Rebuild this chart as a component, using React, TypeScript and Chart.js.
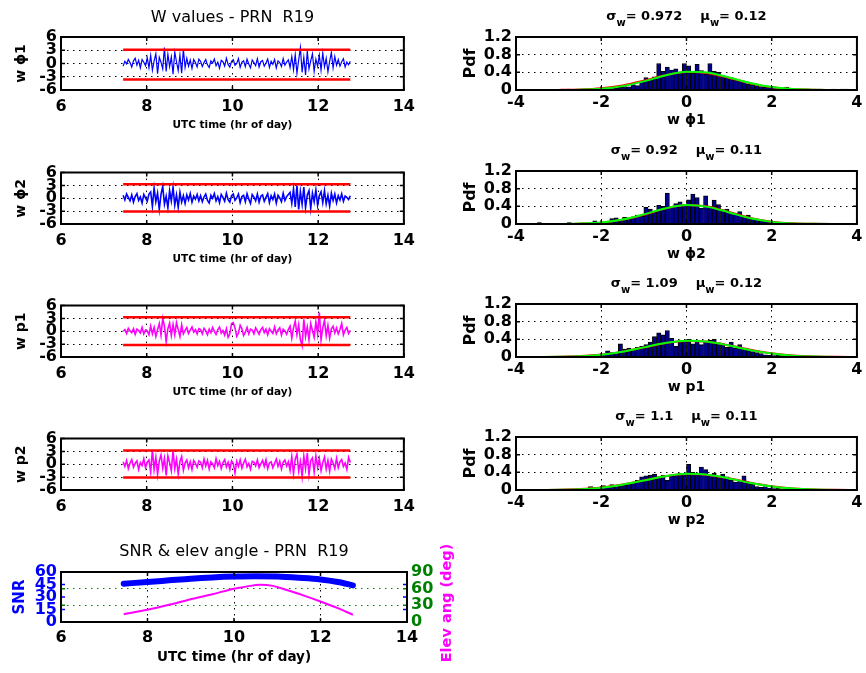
import React, { useEffect, useRef } from 'react';
import { Chart, registerables } from 'chart.js';

Chart.register(...registerables);

// ---------------- data ----------------
const T_START = 7.45;
const T_END = 12.75;

const W_PHI1 = [
  -0.6, 0.5, -0.1, 0.9, 0.2, -0.8, 0.6, 1.2, -0.4, 0.7, -1.0, 0.9, 0.3, -0.5, 1.3, -1.0,
  1.8, -1.5, 0.6, 2.2, -2.3, 1.4, 0.3, -1.2, 3.6, -1.8, 2.1, -0.7, 1.5, -2.4, 2.6, 0.4, -1.6, 1.9, -2.2, 3.2, -0.9,
  1.2, -0.6, 0.8, -1.1, 0.9, 0.2, -0.8, 1.0,
  0.5, -0.7, 0.2, 0.9, -0.3, -0.9, 0.6, 0.1, 1.0, -0.5, 0.3, -1.1, 0.7, 0.4, -0.6, 1.2, -0.2, -0.8, 0.5, 0.9,
  -0.4, 0.0, 1.1, -0.9, 0.3, 0.6, -0.7, 1.0, -0.1, -1.0, 0.8, 0.2, -0.5, 1.1, -0.8, 0.4, 0.7, -0.6, 0.1, 1.0,
  -0.9, 0.5, -0.2, 0.9, -1.0, 0.6, 0.2, -0.7, 1.1, -0.4, 0.3, 0.8,
  -0.9, 1.6, -1.4, 2.0, -2.2, 0.8, 3.6, -2.0, 1.4, -2.6, 2.8, -1.2, 0.6, 2.2, -1.8, 1.0, -0.6, 1.9, -1.5, 2.4,
  -0.8, 1.2, -1.9, 0.5, 2.5, -1.0, 1.6, -0.4,
  0.9, -0.6, 0.4, 1.1, -0.8, 0.3, -0.3, 0.5,
];
const W_PHI2 = [
  0.7, -0.4, 1.0, 0.2, -0.6, 0.8, -0.9, 0.4, 1.1, -0.5, 0.3, -1.1, 0.9, 0.1, -0.7, 1.0,
  1.5, -1.9, 2.4, -0.8, 1.2, -2.6, 0.9, 2.8, -1.4, 0.5, -2.2, 1.8, -0.6, 2.6, -1.6, 0.8, -2.1, 1.4, -0.9, 0.6, -1.2,
  0.8, -0.4, 1.1, -0.9, 0.5, -0.2, 0.9, -0.6,
  0.6, -0.8, 0.3, 1.0, -0.5, -1.1, 0.7, 0.0, 1.1, -0.6, 0.4, -1.0, 0.9, 0.2, -0.7, 1.2, -0.3, -0.9, 0.6, 1.0,
  -0.5, 0.1, 1.0, -1.0, 0.4, 0.7, -0.8, 1.1, -0.2, -1.2, 0.9, 0.3, -0.6, 1.0, -0.9, 0.5, 0.8, -0.7, 0.2, 1.1,
  -1.0, 0.6, -0.3, 1.0, -1.1, 0.7, 0.1, -0.8, 1.2, -0.5, 0.4, 0.9,
  1.4, -1.2, 2.2, -2.0, 3.0, -2.6, 1.6, -1.4, 2.6, -2.2, 0.8, 1.8, -2.4, 1.2, -0.8, 2.0, -1.6, 0.6, 1.5, -1.0,
  1.8, -1.3, 0.7, -1.8, 1.2, -0.5, 1.0, -1.1,
  0.6, -0.4, 1.0, -0.7, 0.5, 0.2, -0.3, 0.6,
];
const W_P1 = [
  0.0, 0.4, -0.5, 0.7, 0.1, -0.3, 0.6, -0.7, 0.5, 0.2, -0.4, 0.9, -0.6, 0.3, 0.1, -0.8,
  1.2, -0.6, 0.9, -1.2, 0.4, 1.8, -0.9, 3.0, 1.2, -2.4, 0.6, 1.9, -1.0, 1.6, -0.8, 2.0, 0.4, -1.2, 1.5, -0.6, 0.2,
  0.9, -0.5, 0.3, 1.0, -0.2, 0.4, -0.6, 0.6,
  0.4, -0.6, 0.7, 0.1, -0.8, 0.5, -0.3, 0.9, 0.0, -0.7, 0.4, 1.0, -0.4, 0.2, -0.9, 0.6,
  -1.4, -0.6, 1.8, 2.0, 0.8, -1.2, -0.4, 1.4, 0.6, -1.0, -0.2, 0.9, -0.6, 0.5,
  0.3, -0.6, 0.8, 0.1, -0.7, 0.4, 0.9, -0.3, 0.5, -0.8, 0.6, 0.0, -0.5, 1.0, -0.6, 0.3, 0.8, -0.9, 0.5, 0.1, -0.7, 0.4,
  1.2, -1.6, 0.8, 2.4, -0.8, 1.5, -2.0, -3.4, 2.8, -1.2, 1.0, -2.0, 1.8, 0.2, -1.4, 2.2, -0.6, 4.4, -2.0, 0.8,
  2.6, -1.0, 1.4, -1.6, 0.6, 1.2, -0.4, 0.8,
  -0.6, 0.4, 1.8, -0.8, 0.3, 0.9, -0.5, 0.2,
];
const W_P2 = [
  0.6, -0.5, 0.9, -1.0, 0.3, 1.1, -0.7, 0.2, 0.8, -1.2, 0.4, -0.3, 1.3, -0.8, 0.5, 1.0,
  -1.8, 3.4, -1.2, 1.6, -2.4, 0.8, 2.2, -0.9, 1.4, -2.6, 2.0, 0.4, -1.5, 3.2, -1.0, 1.2, -2.3, 0.6, 1.8, -1.4, 0.3,
  1.0, -0.8, 0.6, -1.2, 0.9, 0.2, -0.7, 0.8,
  0.5, -0.8, 1.2, -0.4, 0.9, -1.1, 0.6, 0.1, -0.8, 1.3, -0.3, 0.7, -1.0, 0.4, 1.1, -0.6, 0.5, -1.2, 0.8, 0.2,
  -2.0, 0.7, -0.5, 1.0, -0.9, 0.3, 1.2, -0.6, 0.2, -1.1, 0.7, 0.5, -0.4, 1.0, -0.8, 0.1, 0.9, -0.5, 1.1, -1.0,
  0.3, 0.6, -0.8, 0.2, 1.2, -0.5, 0.7, -1.1, 0.5, 1.0, -0.4, 0.6,
  -1.4, 1.8, -2.2, 1.2, 2.4, -1.6, 0.6, -2.8, 1.9, -1.0, 2.6, -2.4, 0.8, 1.5, -1.8, 2.0, -0.7, 1.3, -1.5, 0.4,
  1.7, -1.1, 0.9, -1.6, 1.2, 0.3, -1.0, 1.4,
  -0.8, 0.6, 1.1, -0.5, 0.3, -1.2, 1.6, 0.4,
];
const UPPER = [3.1, 3.3, 3.3, 3.2];
const LOWER = [-3.6, -3.1, -3.2, -3.1];
const W_LABELS = ['w \u03d51', 'w \u03d52', 'w p1', 'w p2'];

// histograms: bin centres start at -3.95, width 0.1
const BIN_START = -3.95;
const BIN_WIDTH = 0.1;
const PDF_PHI1 = [
  0, 0, 0, 0, 0, 0, 0, 0, 0, 0,
  0, 0, 0.02, 0.01, 0, 0.01, 0.02, 0.01, 0.02, 0.03,
  0.02, 0.04, 0.03, 0.05, 0.06, 0.08, 0.07, 0.12, 0.10, 0.18,
  0.28, 0.22, 0.30, 0.60, 0.42, 0.52, 0.45, 0.48, 0.40, 0.60,
  0.55, 0.38, 0.58, 0.44, 0.36, 0.60, 0.42, 0.40, 0.32, 0.30,
  0.28, 0.22, 0.20, 0.18, 0.14, 0.12, 0.10, 0.08, 0.06, 0.07,
  0.07, 0.03, 0.02, 0.06, 0.03, 0.02, 0.01, 0.02, 0.02, 0.01,
  0.01, 0.02, 0, 0.01, 0.02, 0, 0.02, 0.02, 0, 0,
];
const PDF_PHI2 = [
  0, 0, 0, 0, 0, 0.03, 0, 0.01, 0, 0.01,
  0.01, 0, 0.03, 0.01, 0.01, 0.02, 0.01, 0.02, 0.07, 0.03,
  0.04, 0.06, 0.12, 0.14, 0.10, 0.15, 0.12, 0.16, 0.20, 0.18,
  0.38, 0.34, 0.28, 0.42, 0.40, 0.70, 0.38, 0.46, 0.50, 0.42,
  0.55, 0.68, 0.60, 0.36, 0.64, 0.40, 0.54, 0.44, 0.32, 0.34,
  0.26, 0.22, 0.28, 0.16, 0.20, 0.12, 0.10, 0.08, 0.06, 0.05,
  0.03, 0.04, 0.02, 0.01, 0.01, 0.02, 0.01, 0, 0, 0,
  0, 0, 0, 0, 0, 0, 0, 0, 0, 0,
];
const PDF_P1 = [
  0, 0.01, 0, 0, 0, 0, 0, 0, 0.01, 0.01,
  0, 0.01, 0, 0.01, 0.01, 0.02, 0.01, 0.02, 0.03, 0.04,
  0.06, 0.14, 0.10, 0.08, 0.30, 0.18, 0.20, 0.18, 0.22, 0.25,
  0.28, 0.34, 0.46, 0.55, 0.50, 0.60, 0.42, 0.24, 0.34, 0.38,
  0.40, 0.30, 0.38, 0.28, 0.34, 0.38, 0.40, 0.32, 0.30, 0.22,
  0.34, 0.20, 0.28, 0.18, 0.16, 0.12, 0.10, 0.08, 0.05, 0.04,
  0.03, 0.04, 0.03, 0.02, 0.01, 0, 0, 0, 0, 0.01,
  0, 0.02, 0, 0, 0, 0, 0, 0, 0, 0,
];
const PDF_P2 = [
  0, 0.01, 0, 0, 0.01, 0, 0, 0.01, 0, 0.01,
  0, 0.01, 0.01, 0.02, 0.01, 0.01, 0.02, 0.08, 0.05, 0.04,
  0.10, 0.06, 0.12, 0.08, 0.10, 0.12, 0.14, 0.18, 0.22, 0.30,
  0.32, 0.34, 0.36, 0.30, 0.34, 0.22, 0.32, 0.34, 0.38, 0.36,
  0.58, 0.40, 0.36, 0.52, 0.46, 0.34, 0.38, 0.30, 0.36, 0.30,
  0.22, 0.18, 0.22, 0.32, 0.16, 0.14, 0.08, 0.06, 0.08, 0.04,
  0.03, 0.04, 0.02, 0.01, 0.01, 0.01, 0, 0.01, 0, 0,
  0.01, 0, 0, 0.01, 0, 0, 0, 0, 0, 0,
];

// fitted pdf curves (red = normal fit, green = second fit)
const CURVE_X = [-4, -3.5, -3, -2.5, -2, -1.5, -1, -0.5, 0, 0.5, 1, 1.5, 2, 2.5, 3, 3.5, 4];
const RED_PHI1 = [0.0001, 0.0004, 0.0024, 0.011, 0.038, 0.102, 0.211, 0.335, 0.407, 0.380, 0.272, 0.150, 0.063, 0.020, 0.005, 0.001, 0.0002];
const GREEN_PHI1 = [0, 0.0002, 0.0015, 0.008, 0.030, 0.088, 0.195, 0.330, 0.415, 0.395, 0.285, 0.158, 0.066, 0.021, 0.005, 0.001, 0.0002];
const RED_PHI2 = [0.0001, 0.0002, 0.0014, 0.0078, 0.031, 0.094, 0.209, 0.348, 0.431, 0.396, 0.272, 0.139, 0.053, 0.015, 0.003, 0.0005, 0.0001];
const GREEN_PHI2 = [0, 0.0003, 0.002, 0.010, 0.036, 0.102, 0.218, 0.352, 0.428, 0.388, 0.262, 0.130, 0.048, 0.013, 0.003, 0.0004, 0];
const RED_P1 = [0.0003, 0.0015, 0.006, 0.020, 0.055, 0.122, 0.216, 0.311, 0.364, 0.344, 0.264, 0.164, 0.083, 0.034, 0.011, 0.003, 0.0006];
const GREEN_P1 = [0.0002, 0.001, 0.005, 0.018, 0.052, 0.120, 0.218, 0.318, 0.370, 0.345, 0.258, 0.156, 0.077, 0.030, 0.010, 0.002, 0.0004];
const RED_P2 = [0.0003, 0.0015, 0.006, 0.021, 0.057, 0.124, 0.217, 0.310, 0.361, 0.342, 0.264, 0.166, 0.086, 0.036, 0.012, 0.003, 0.0007];
const GREEN_P2 = [0.0002, 0.001, 0.005, 0.019, 0.053, 0.120, 0.215, 0.312, 0.366, 0.346, 0.262, 0.160, 0.080, 0.032, 0.010, 0.002, 0.0005];

const SIGMA = [0.972, 0.92, 1.09, 1.1];
const MU = [0.12, 0.11, 0.12, 0.11];

// SNR and elevation
const SNR_T = [7.45, 8, 8.5, 9, 9.5, 10, 10.5, 11, 11.5, 12, 12.4, 12.75];
const SNR = [46, 48, 50, 52, 53.5, 54.5, 55, 54.5, 53, 51, 48, 44];
const ELEV_T = [7.45, 8, 8.5, 9, 9.5, 10, 10.3, 10.6, 10.9, 11.2, 11.6, 12, 12.4, 12.75];
const ELEV = [14, 22, 31, 41, 50, 60, 64, 67, 65, 58, 48, 37, 25, 13];

const W_TITLE = 'W values - PRN  R19';
const SNR_TITLE = 'SNR & elev angle - PRN  R19';
const TIME_LABEL = 'UTC time (hr of day)';

// ---------------- styling / layout ----------------
const FONT = "'DejaVu Sans', 'Liberation Sans', Arial, sans-serif";
const BLUE = '#0000ff';
const RED = '#ff0000';
const MAGENTA = '#ff00ff';
const GREEN_AX = '#008000';
const W_SERIES = [W_PHI1, W_PHI2, W_P1, W_P2];
const W_COLORS = [BLUE, BLUE, MAGENTA, MAGENTA];
const W_WIDTHS = [1.2, 1.6, 1.6, 1.6];
const PDFS = [PDF_PHI1, PDF_PHI2, PDF_P1, PDF_P2];
const REDS = [RED_PHI1, RED_PHI2, RED_P1, RED_P2];
const GREENS = [GREEN_PHI1, GREEN_PHI2, GREEN_P1, GREEN_P2];

const ROW_TOPS = [37, 171, 304, 437];
const PLOT_H = 53;
const DASH = [1.5, 4.5];
const TL = 4;

const tickFont = { family: FONT, size: 16, weight: 'bold' as const };

const boxPlugin = {
  id: 'mbox',
  afterDatasetsDraw(chart: any, _a: any, o: any) {
    const { ctx, chartArea: a, scales } = chart;
    ctx.save();
    ctx.lineWidth = 1.5;
    Object.values(scales).forEach((s: any) => {
      ctx.strokeStyle = s.options.ticks.color || '#000';
      s.ticks.forEach((_t: any, k: number) => {
        const p = s.getPixelForTick(k);
        ctx.beginPath();
        if (s.isHorizontal()) {
          ctx.moveTo(p, a.bottom); ctx.lineTo(p, a.bottom - TL);
          ctx.moveTo(p, a.top); ctx.lineTo(p, a.top + TL);
        } else {
          ctx.moveTo(a.left, p); ctx.lineTo(a.left + TL, p);
          ctx.moveTo(a.right, p); ctx.lineTo(a.right - TL, p);
        }
        ctx.stroke();
      });
    });
    ctx.lineWidth = 2;
    const side = (c: string, x1: number, y1: number, x2: number, y2: number) => {
      ctx.strokeStyle = c;
      ctx.beginPath(); ctx.moveTo(x1, y1); ctx.lineTo(x2, y2); ctx.stroke();
    };
    side('#000', a.left - 1, a.top, a.right + 1, a.top);
    side('#000', a.left - 1, a.bottom, a.right + 1, a.bottom);
    side((o && o.left) || '#000', a.left, a.top, a.left, a.bottom);
    side((o && o.right) || '#000', a.right, a.top, a.right, a.bottom);
    ctx.restore();
  },
};

const richTitle = {
  id: 'richTitle',
  afterDraw(chart: any, _a: any, o: any) {
    if (!o || !o.parts) return;
    const { ctx, chartArea: a } = chart;
    ctx.save();
    ctx.fillStyle = '#000';
    ctx.textBaseline = 'alphabetic';
    ctx.textAlign = 'left';
    const main = `bold ${o.size}px ${FONT}`;
    const sub = `bold ${o.subSize}px ${FONT}`;
    let total = 0;
    o.parts.forEach((p: any) => { ctx.font = p.sub ? sub : main; total += ctx.measureText(p.t).width; });
    let x = (a.left + a.right) / 2 - total / 2;
    const y = a.top - o.dy;
    o.parts.forEach((p: any) => {
      ctx.font = p.sub ? sub : main;
      ctx.fillText(p.t, x, p.sub ? y + o.subDy : y);
      x += ctx.measureText(p.t).width;
    });
    ctx.restore();
  },
};

const sideLabel = {
  id: 'sideLabel',
  afterDraw(chart: any, _a: any, o: any) {
    if (!o || !o.text) return;
    const { ctx, chartArea: a } = chart;
    ctx.save();
    ctx.translate(o.x, (a.top + a.bottom) / 2 + (o.dy || 0));
    ctx.rotate(-Math.PI / 2);
    ctx.font = `bold ${o.size}px ${FONT}`;
    ctx.fillStyle = o.color;
    ctx.textAlign = 'center';
    ctx.textBaseline = 'middle';
    ctx.fillText(o.text, 0, 0);
    ctx.restore();
  },
};

type Rect = { x: number; y: number; w: number; h: number };

function Panel({ rect, make }: { rect: Rect; make: () => any }) {
  const ref = useRef<HTMLCanvasElement | null>(null);
  useEffect(() => {
    const c = new Chart(ref.current as HTMLCanvasElement, make());
    return () => c.destroy();
  }, []);
  return (
    <canvas
      ref={ref}
      width={rect.w}
      height={rect.h}
      style={{ position: 'absolute', left: rect.x, top: rect.y, width: rect.w, height: rect.h }}
    />
  );
}

const baseOpts = {
  responsive: false,
  animation: false,
  events: [],
};

function timePanel(i: number) {
  const top = ROW_TOPS[i];
  const canvasTop = i === 0 ? 0 : top - 12;
  const bottomH = i < 3 ? 45 : 30;
  const rect = { x: 0, y: canvasTop, w: 422, h: top + PLOT_H + bottomH - canvasTop };
  const vals = W_SERIES[i];
  const n = vals.length;
  const series = vals.map((v, k) => ({ x: T_START + ((T_END - T_START) * k) / (n - 1), y: v }));
  const make = () => ({
    type: 'line',
    data: {
      datasets: [
        { data: [{ x: T_START, y: UPPER[i] }, { x: T_END, y: UPPER[i] }], borderColor: RED, borderWidth: 2.5, pointRadius: 0, order: 0 },
        { data: [{ x: T_START, y: LOWER[i] }, { x: T_END, y: LOWER[i] }], borderColor: RED, borderWidth: 2.5, pointRadius: 0, order: 0 },
        { data: series, borderColor: W_COLORS[i], borderWidth: W_WIDTHS[i], pointRadius: 0, order: 1 },
      ],
    },
    options: {
      ...baseOpts,
      layout: { autoPadding: false, padding: { top: i === 0 ? 0 : 12, right: 15, left: 0, bottom: 0 } },
      plugins: {
        legend: { display: false },
        tooltip: { enabled: false },
        title: i === 0
          ? { display: true, text: W_TITLE, fullSize: false, color: '#000', font: { family: FONT, size: 16, weight: 'normal' }, padding: { top: 8, bottom: 9.8 } }
          : { display: false },
        mbox: {},
      },
      scales: {
        x: {
          type: 'linear', min: 6, max: 14,
          ticks: { stepSize: 2, font: tickFont, color: '#000', padding: 7, maxRotation: 0, autoSkip: false },
          grid: { color: '#000', lineWidth: 1, drawTicks: false },
          border: { display: false, dash: DASH },
          title: { display: i < 3, text: TIME_LABEL, color: '#000', font: { family: FONT, size: 10.5, weight: 'bold' }, padding: { top: 0, bottom: 3.5 } },
          afterFit: (s: any) => { s.height = bottomH; },
        },
        y: {
          type: 'linear', min: -6, max: 6,
          ticks: { stepSize: 3, font: tickFont, color: '#000', padding: 4, autoSkip: false },
          grid: { color: '#000', lineWidth: 1, drawTicks: false },
          border: { display: false, dash: DASH },
          title: { display: true, text: W_LABELS[i], color: '#000', font: { family: FONT, size: 14, weight: 'bold' }, padding: { top: 12.6, bottom: 0 } },
          afterFit: (s: any) => { s.width = 61; },
        },
      },
    },
    plugins: [boxPlugin],
  });
  return { rect, make };
}

function pdfPanel(i: number) {
  const top = ROW_TOPS[i];
  const rect = { x: 455, y: top - 37, w: 411, h: 37 + PLOT_H + 42 };
  const bins = PDFS[i].map((v, k) => ({ x: BIN_START + BIN_WIDTH * k, y: v }));
  const red = CURVE_X.map((x, k) => ({ x, y: REDS[i][k] }));
  const green = CURVE_X.map((x, k) => ({ x, y: GREENS[i][k] }));
  const make = () => ({
    type: 'line',
    data: {
      datasets: [
        { type: 'line', data: green, borderColor: '#00ff00', borderWidth: 2, pointRadius: 0, cubicInterpolationMode: 'monotone', order: 1 },
        { type: 'line', data: red, borderColor: RED, borderWidth: 2, pointRadius: 0, cubicInterpolationMode: 'monotone', order: 2 },
        { type: 'bar', data: bins, backgroundColor: 'rgb(0,0,143)', borderColor: '#000', borderWidth: 1, barPercentage: 1, categoryPercentage: 1, order: 3 },
      ],
    },
    options: {
      ...baseOpts,
      layout: { autoPadding: false, padding: { top: 37, right: 6, left: 0, bottom: 0 } },
      plugins: {
        legend: { display: false },
        tooltip: { enabled: false },
        title: { display: false },
        mbox: {},
        richTitle: {
          parts: [
            { t: '\u03c3' }, { t: 'w', sub: true }, { t: `= ${SIGMA[i]}    \u03bc` }, { t: 'w', sub: true }, { t: `= ${MU[i]}` },
          ],
          size: 13, subSize: 10, dy: 17, subDy: 6,
        },
      },
      scales: {
        x: {
          type: 'linear', min: -4, max: 4, offset: false,
          ticks: { stepSize: 2, font: tickFont, color: '#000', padding: 3.5, maxRotation: 0, autoSkip: false },
          grid: { color: '#000', lineWidth: 1, drawTicks: false, offset: false },
          border: { display: false, dash: DASH },
          title: { display: true, text: W_LABELS[i], color: '#000', font: { family: FONT, size: 14, weight: 'bold' }, padding: { top: 0, bottom: 3.6 } },
          afterFit: (s: any) => { s.height = 42; },
        },
        y: {
          type: 'linear', min: 0, max: 1.2,
          ticks: { stepSize: 0.4, font: tickFont, color: '#000', padding: 4, autoSkip: false },
          grid: { color: '#000', lineWidth: 1, drawTicks: false },
          border: { display: false, dash: DASH },
          title: { display: true, text: 'Pdf', color: '#000', font: { family: FONT, size: 16, weight: 'bold' }, padding: { top: 6.4, bottom: 0 } },
          afterFit: (s: any) => { s.width = 61; },
        },
      },
    },
    plugins: [boxPlugin, richTitle],
  });
  return { rect, make };
}

function snrPanel() {
  const rect = { x: 0, y: 530, w: 470, h: 143 };
  const snr = SNR_T.map((x, k) => ({ x, y: SNR[k] }));
  const elev = ELEV_T.map((x, k) => ({ x, y: ELEV[k] }));
  const make = () => ({
    type: 'line',
    data: {
      datasets: [
        { data: elev, yAxisID: 'y2', borderColor: MAGENTA, borderWidth: 2, pointRadius: 0, cubicInterpolationMode: 'monotone', order: 0 },
        { data: snr, yAxisID: 'y', borderColor: BLUE, borderWidth: 6, pointRadius: 0, cubicInterpolationMode: 'monotone', borderCapStyle: 'round', order: 1 },
      ],
    },
    options: {
      ...baseOpts,
      layout: { autoPadding: false, padding: { top: 0, right: 0, left: 0, bottom: 0 } },
      plugins: {
        legend: { display: false },
        tooltip: { enabled: false },
        title: { display: true, text: SNR_TITLE, fullSize: false, color: '#000', font: { family: FONT, size: 16, weight: 'normal' }, padding: { top: 12.4, bottom: 10.4 } },
        mbox: {},
        sideLabel: { text: 'Elev ang (deg)', x: 447, dy: 6, size: 14.5, color: MAGENTA },
      },
      scales: {
        x: {
          type: 'linear', min: 6, max: 14,
          ticks: { stepSize: 2, font: tickFont, color: '#000', padding: 6.4, maxRotation: 0, autoSkip: false },
          grid: { color: '#000', lineWidth: 1, drawTicks: false },
          border: { display: false, dash: DASH },
          title: { display: true, text: TIME_LABEL, color: '#000', font: { family: FONT, size: 13.5, weight: 'bold' }, padding: { top: 0, bottom: 7.9 } },
          afterFit: (s: any) => { s.height = 51; },
        },
        y: {
          type: 'linear', position: 'left', min: 0, max: 60,
          ticks: { stepSize: 15, font: tickFont, color: BLUE, padding: 4, autoSkip: false },
          grid: { display: false, drawTicks: false },
          border: { display: false },
          title: { display: true, text: 'SNR', color: BLUE, font: { family: FONT, size: 15, weight: 'bold' }, padding: { top: 11, bottom: 0 } },
          afterFit: (s: any) => { s.width = 61; },
        },
        y2: {
          type: 'linear', position: 'right', min: 0, max: 90,
          ticks: { stepSize: 30, font: tickFont, color: GREEN_AX, padding: 4, autoSkip: false },
          grid: { color: GREEN_AX, lineWidth: 1, drawTicks: false },
          border: { display: false, dash: DASH },
          afterFit: (s: any) => { s.width = 63; },
        },
      },
    },
    plugins: [boxPlugin, sideLabel],
  });
  return { rect, make };
}

const PANELS = [
  ...[0, 1, 2, 3].map((i) => timePanel(i)),
  ...[0, 1, 2, 3].map((i) => pdfPanel(i)),
  snrPanel(),
];

export default function App() {
  return (
    <div style={{ position: 'fixed', left: 0, top: 0, width: 866, height: 673, background: '#fff', overflow: 'hidden' }}>
      {PANELS.map((p, k) => (
        <Panel key={k} rect={p.rect} make={p.make} />
      ))}
    </div>
  );
}
